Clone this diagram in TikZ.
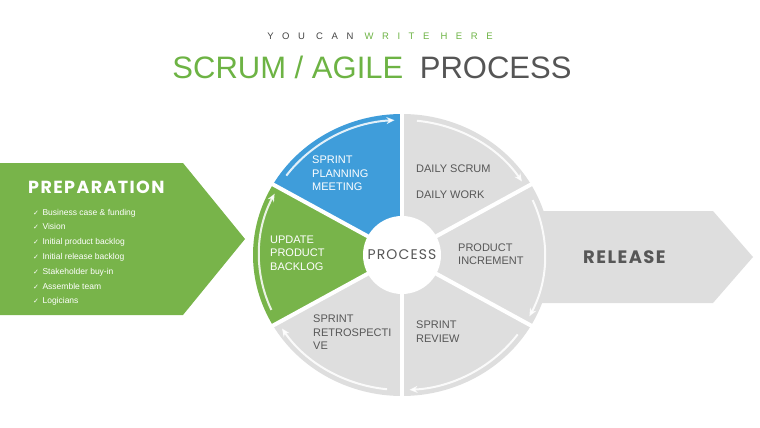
\documentclass[tikz,border=0pt]{standalone}
\usepackage{fontspec}
\setmainfont{Liberation Sans}
\newfontfamily\headfont[LetterSpace=8]{Poppins}
\newfontfamily\symfont{DejaVu Sans}
\newfontfamily\spacedfont[LetterSpace=90]{Liberation Sans}
\usetikzlibrary{positioning,arrows.meta}

\definecolor{scrumgreen}{HTML}{78B44A}
\definecolor{titlegreen}{HTML}{6DB344}
\definecolor{scrumblue}{HTML}{3F9DDA}
\definecolor{segrey}{HTML}{DEDEDE}
\definecolor{textgrey}{HTML}{575757}
\definecolor{titlegrey}{HTML}{555555}

% one slice of the cycle, from angle #1 to angle #2
\newcommand\slicepath[2]{(ctr) -- ++(#1:149 and 141) arc[start angle=#1, end angle=#2, x radius=149, y radius=141] -- cycle}

\begin{document}
\begin{tikzpicture}[x=1pt, y=1pt,
  seglabel/.style={font=\fontsize{11}{13.5}\selectfont, align=left, anchor=west, inner sep=0pt},
  greylabel/.style={seglabel, text=textgrey},
  whitelabel/.style={seglabel, text=white},
  divider/.style={white, line width=4pt},
  rim/.style={white, line width=2pt, opacity=0.85, -{Stealth[length=8pt, width=7pt]}},
  listitem/.style={font=\fontsize{8.5}{10}\selectfont, text=white, anchor=base west, inner sep=0pt},
]
  \useasboundingbox (0,0) rectangle (760,-428);
  \coordinate (ctr) at (402,-255);

  % heading
  \node[anchor=base, font=\spacedfont\fontsize{9.5}{11}\selectfont, text=titlegrey!80!black] (tagline) at (380,-40) {YOU CAN \textcolor{titlegreen}{WRITE HERE}};
  \node[anchor=base, font=\fontsize{31}{36}\selectfont, text=titlegrey] (title) at (372,-78) {\textcolor{titlegreen}{SCRUM / AGILE}\hspace{8pt} PROCESS};

  % side arrows
  \fill[scrumgreen] (0,-163) -- (183,-163) -- (245,-239) -- (183,-315) -- (0,-315) -- cycle;
  \fill[segrey] (540,-211) -- (713,-211) -- (753,-257) -- (713,-303) -- (540,-303) -- cycle;

  \node[anchor=base west, inner sep=0pt, font=\headfont\bfseries\fontsize{17.5}{20}\selectfont, text=white] (prep) at (28,-193) {PREPARATION};
  \foreach \txt [count=\i] in {Business case \& funding, Vision, Initial product backlog, Initial release backlog, Stakeholder buy-in, Assemble team, Logicians}
    \node[listitem] (prep\i) at (33,{-200.2-14.8*\i}) {{\symfont\fontsize{7}{8}\selectfont ✓}\hspace{3.5pt}\txt};

  \node[anchor=base west, inner sep=0pt, font=\headfont\bfseries\fontsize{18}{20}\selectfont, text=textgrey] (release) at (583,-263) {RELEASE};

  % cycle
  \fill[scrumblue] \slicepath{90}{150};
  \fill[scrumgreen] \slicepath{150}{210};
  \fill[segrey] \slicepath{210}{270};
  \fill[segrey] \slicepath{270}{330};
  \fill[segrey] \slicepath{-30}{30};
  \fill[segrey] \slicepath{30}{90};
  \foreach \a in {30,90,...,330}
    \draw[divider] (ctr) -- ++(\a:152 and 144);
  \foreach \a in {150,90,...,-150}
    \draw[rim] ([shift={(\a-6:143 and 135)}]ctr) arc[start angle=\a-6, end angle=\a-57, x radius=143, y radius=135];
  \fill[white] (ctr) circle[radius=39];
  \node[font=\headfont\fontsize{14}{16}\selectfont, text=textgrey] (process) at (ctr) {PROCESS};

  \node[whitelabel] (planning) at (312,-173.5) {SPRINT\\PLANNING\\MEETING};
  \node[whitelabel] (backlog) at (270,-253) {UPDATE\\PRODUCT\\BACKLOG};
  \node[greylabel] (daily) at (416,-169) {DAILY SCRUM};
  \node[greylabel] (work) at (416,-195) {DAILY WORK};
  \node[greylabel] (increment) at (458,-254) {PRODUCT\\INCREMENT};
  \node[greylabel] (review) at (416,-331.5) {SPRINT\\REVIEW};
  \node[greylabel] (retro) at (313,-332.5) {SPRINT\\RETROSPECTI\\VE};
\end{tikzpicture}
\end{document}
